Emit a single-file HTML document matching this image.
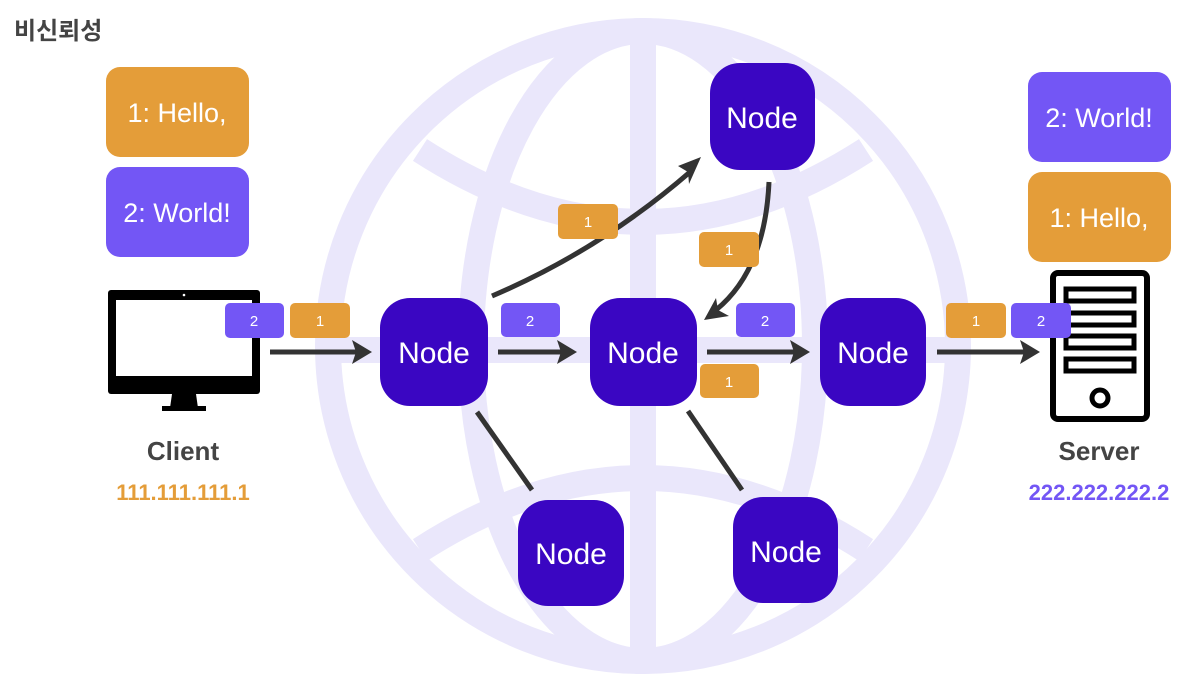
<!DOCTYPE html>
<html><head><meta charset="utf-8"><style>
html,body{margin:0;padding:0;background:#fff;}
svg{display:block;font-family:"Liberation Sans","Noto Sans CJK KR",sans-serif;}
</style></head><body>
<svg width="1186" height="686" viewBox="0 0 1186 686" xmlns="http://www.w3.org/2000/svg">
<!-- globe -->
<g fill="none" stroke="#eae7fb" stroke-width="26">
<circle cx="643" cy="346" r="315"/>
<ellipse cx="643" cy="346" rx="172" ry="315"/>
<line x1="643" y1="31" x2="643" y2="661"/>
<line x1="330" y1="350" x2="958" y2="350"/>
<path d="M420 150 Q643 294 866 150"/>
<path d="M420 550 Q643 406 866 550"/>
</g>
<text x="14" y="39" font-size="24" font-weight="bold" fill="#444">비신뢰성</text>
<!-- messages -->
<g font-size="27" fill="#fff" text-anchor="middle">
<rect x="106" y="67" width="143" height="90" rx="14" fill="#e49d39"/>
<text x="177" y="122">1: Hello,</text>
<rect x="106" y="167" width="143" height="90" rx="14" fill="#7356f5"/>
<text x="177" y="222">2: World!</text>
<rect x="1028" y="72" width="143" height="90" rx="14" fill="#7356f5"/>
<text x="1099" y="127">2: World!</text>
<rect x="1028" y="172" width="143" height="90" rx="14" fill="#e49d39"/>
<text x="1099" y="227">1: Hello,</text>
</g>
<!-- monitor -->
<rect x="108" y="290" width="152" height="104" rx="3" fill="#000"/>
<rect x="116" y="300" width="136" height="76" fill="#fff"/>
<circle cx="184" cy="295" r="1.3" fill="#fff"/>
<path d="M172 394 L196 394 L198 408 L170 408 Z" fill="#000"/>
<rect x="162" y="406" width="44" height="5" fill="#000"/>
<!-- server -->
<rect x="1053" y="273" width="94" height="146" rx="5" fill="none" stroke="#000" stroke-width="6"/>
<g fill="none" stroke="#000" stroke-width="5">
<rect x="1066" y="289" width="68" height="12"/>
<rect x="1066" y="313" width="68" height="12"/>
<rect x="1066" y="336" width="68" height="12"/>
<rect x="1066" y="359" width="68" height="12"/>
<circle cx="1100" cy="398" r="8"/>
</g>
<g font-weight="bold" text-anchor="middle">
<text x="183" y="460" font-size="26" fill="#444">Client</text>
<text x="183" y="500" font-size="22" fill="#e49d39">111.111.111.1</text>
<text x="1099" y="460" font-size="26" fill="#444">Server</text>
<text x="1099" y="500" font-size="22" fill="#7356f5">222.222.222.2</text>
</g>
<!-- connectors -->
<g stroke="#333" stroke-width="5" fill="none">
<line x1="270" y1="352" x2="358" y2="352"/>
<line x1="498" y1="352" x2="562" y2="352"/>
<line x1="707" y1="352" x2="795" y2="352"/>
<line x1="937" y1="352" x2="1025" y2="352"/>
<path d="M492 296 Q600 250 690 172"/>
<path d="M769 182 Q765 270 716 310"/>
<line x1="477" y1="412" x2="532" y2="490"/>
<line x1="688" y1="411" x2="742" y2="490"/>
</g>
<g fill="#333">
<path d="M372 352 L352 340 L356 352 L352 364 Z"/>
<path d="M577 352 L557 340 L561 352 L557 364 Z"/>
<path d="M810 352 L790 340 L794 352 L790 364 Z"/>
<path d="M1040 352 L1020 340 L1024 352 L1020 364 Z"/>
<path d="M701 157 L678 166 L688 172 L689 184 Z"/>
<path d="M704 320 L716 298 L718 310 L729 316 Z"/>
</g>
<!-- nodes -->
<g fill="#3a06c2">
<rect x="380" y="298" width="108" height="108" rx="30"/>
<rect x="590" y="298" width="107" height="108" rx="30"/>
<rect x="820" y="298" width="106" height="108" rx="30"/>
<rect x="710" y="63" width="105" height="107" rx="30"/>
<rect x="518" y="500" width="106" height="106" rx="30"/>
<rect x="733" y="497" width="105" height="106" rx="30"/>
</g>
<g font-size="30" fill="#fff" text-anchor="middle">
<text x="434" y="363">Node</text>
<text x="643" y="363">Node</text>
<text x="873" y="363">Node</text>
<text x="762" y="128">Node</text>
<text x="571" y="564">Node</text>
<text x="786" y="562">Node</text>
</g>
<!-- packets -->
<g font-size="15" fill="#fff" text-anchor="middle">
<rect x="225" y="303" width="59" height="35" rx="5" fill="#7356f5"/><text x="254" y="326">2</text>
<rect x="290" y="303" width="60" height="35" rx="5" fill="#e49d39"/><text x="320" y="326">1</text>
<rect x="501" y="303" width="59" height="34" rx="5" fill="#7356f5"/><text x="530" y="326">2</text>
<rect x="558" y="204" width="60" height="35" rx="5" fill="#e49d39"/><text x="588" y="227">1</text>
<rect x="699" y="232" width="60" height="35" rx="5" fill="#e49d39"/><text x="729" y="255">1</text>
<rect x="736" y="303" width="59" height="34" rx="5" fill="#7356f5"/><text x="765" y="326">2</text>
<rect x="700" y="364" width="59" height="34" rx="5" fill="#e49d39"/><text x="729" y="387">1</text>
<rect x="946" y="303" width="60" height="35" rx="5" fill="#e49d39"/><text x="976" y="326">1</text>
<rect x="1011" y="303" width="60" height="35" rx="5" fill="#7356f5"/><text x="1041" y="326">2</text>
</g>
</svg>
</body></html>
